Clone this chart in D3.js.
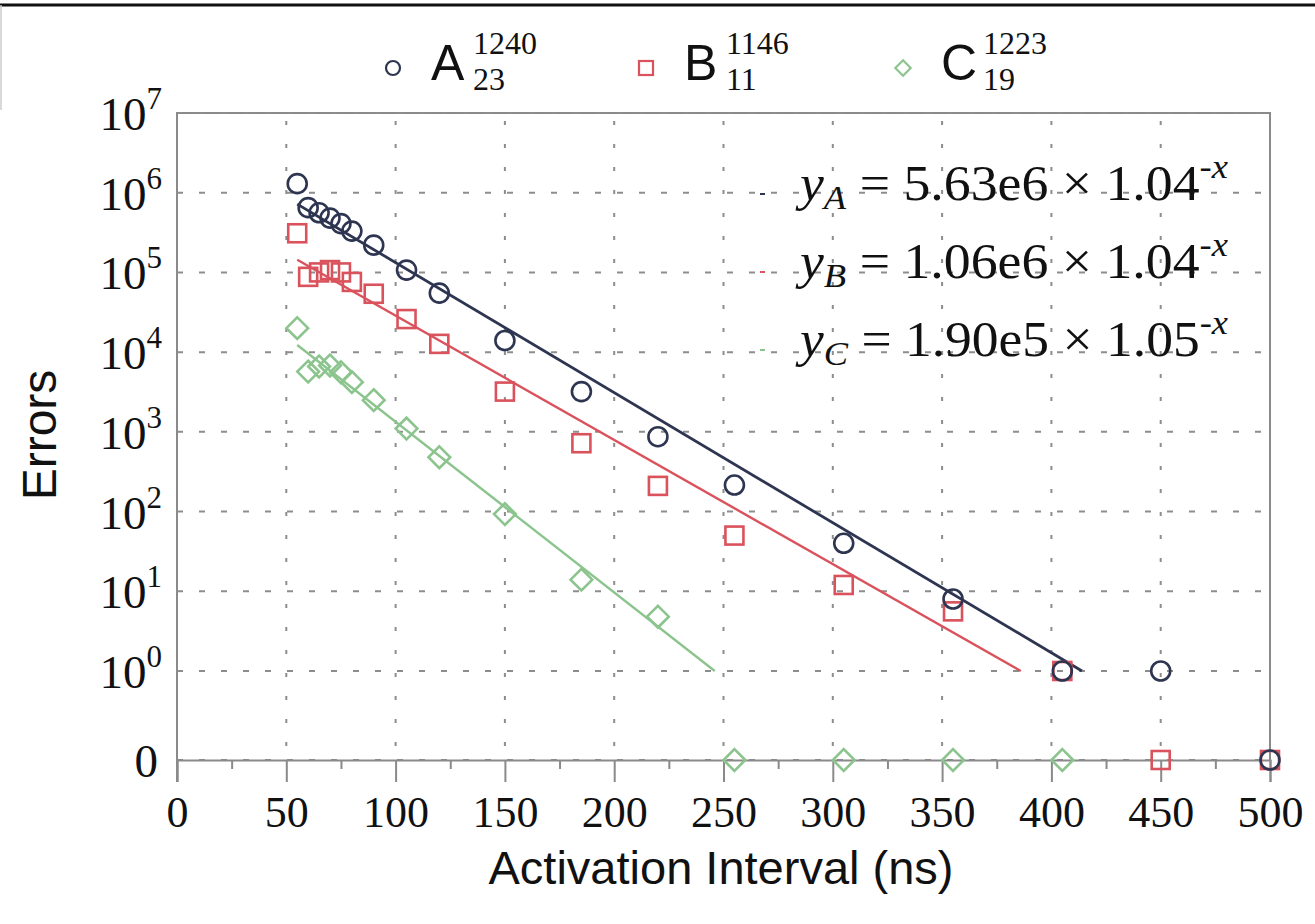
<!DOCTYPE html>
<html>
<head>
<meta charset="utf-8">
<script src="https://cdn.jsdelivr.net/npm/d3@7"></script>
<style>
  body { margin: 0; background: #fff; }
  text { fill: #111; }
</style>
</head>
<body>
<div id="chart"></div>
<script>
var WIDTH = 1315, HEIGHT = 924;
var MARGIN = {TOP: 113, RIGHT: 45, BOTTOM: 164, LEFT: 177};

// activation interval (ns) of each measurement
var intervals = [55, 60, 65, 70, 75, 80, 90, 105, 120, 150, 185, 220, 255, 305, 355, 405, 450, 500];
// errors per module (0 = no error seen, null = not drawn)
var errorsA = [1.3e6, 6.5e5, 5.6e5, 4.8e5, 4.1e5, 3.3e5, 2.2e5, 1.07e5, 5.5e4, 1.4e4, 3.2e3, 870, 215, 40, 8, 1, 1, 0];
var errorsB = [3.1e5, 8.8e4, 1.0e5, 1.07e5, 1.0e5, 7.6e4, 5.4e4, 2.6e4, 1.27e4, 3.2e3, 720, 210, 50, 12, 5.6, 1, 0, 0];
var errorsC = [2.0e4, 5.7e3, 6.6e3, 6.8e3, 5.6e3, 4.2e3, 2.5e3, 1.1e3, 480, 93, 14, 4.8, 0, 0, 0, 0, null, null];

// fitted lines, end points [x, errors]
var fitA = [[55, 7.2e5], [414, 1]];
var fitB = [[55, 1.44e5], [386, 1]];
var fitC = [[55, 1.23e4], [246, 1]];

var names = ["A", "B", "C"];
var nameSup = ["1240", "1146", "1223"];
var nameSub = ["23", "11", "19"];
var coefs = ["5.63e6", "1.06e6", "1.90e5"];
var bases = ["1.04", "1.04", "1.05"];

var xTicks = [0, 50, 100, 150, 200, 250, 300, 350, 400, 450, 500];
var yExps = [0, 1, 2, 3, 4, 5, 6, 7];

var colors = {A: "#2e3551", B: "#d9525c", C: "#8cc48e"};
var ZERO_EXP = -1.1165; // where "0" sits on the log axis

var svg = d3.select("#chart").append("svg")
    .attr("width", WIDTH)
    .attr("height", HEIGHT);

var x = d3.scaleLinear().domain([0, 500]).range([MARGIN.LEFT, WIDTH - MARGIN.RIGHT]);
var yExp = d3.scaleLinear().domain([ZERO_EXP, 7]).range([HEIGHT - MARGIN.BOTTOM, MARGIN.TOP]);
function y(v) { return yExp(v > 0 ? Math.log10(v) : ZERO_EXP); }

var serif = "'Liberation Serif', 'DejaVu Serif', serif";
var sans = "'Liberation Sans', Arial, sans-serif";

// frame line at the very top of the picture
svg.append("line").attr("x1", 0).attr("x2", WIDTH).attr("y1", 5).attr("y2", 5)
    .attr("stroke", "#111").attr("stroke-width", 3);
svg.append("line").attr("x1", 1).attr("x2", 1).attr("y1", 5).attr("y2", 110)
    .attr("stroke", "#ccc").attr("stroke-width", 1.5);

var plotBottom = HEIGHT - MARGIN.BOTTOM;

// box
svg.append("path")
    .attr("d", "M" + x(0) + "," + (plotBottom + 22) + "V" + MARGIN.TOP + "H" + x(500) + "V" + plotBottom)
    .attr("fill", "none").attr("stroke", "#8a8a8a").attr("stroke-width", 2);

// grid
svg.append("g").selectAll("line").data(yExps.concat([ZERO_EXP])).enter().append("line")
    .attr("x1", x(0)).attr("x2", x(500))
    .attr("y1", function(d) { return yExp(d); })
    .attr("y2", function(d) { return yExp(d); })
    .attr("stroke", "#8d8d8d").attr("stroke-width", 2)
    .attr("stroke-dasharray", "6,16");

svg.append("g").selectAll("line").data(xTicks.slice(1, -1)).enter().append("line")
    .attr("x1", function(d) { return x(d); }).attr("x2", function(d) { return x(d); })
    .attr("y1", MARGIN.TOP).attr("y2", plotBottom)
    .attr("stroke", "#8d8d8d").attr("stroke-width", 2)
    .attr("stroke-dasharray", "4,19").attr("stroke-dashoffset", -8);

// x axis
var xAxis = svg.append("g")
    .attr("transform", "translate(0," + plotBottom + ")")
    .call(d3.axisBottom(x).tickValues(xTicks).tickSize(22).tickPadding(14));
xAxis.select(".domain").attr("stroke", "#8a8a8a").attr("stroke-width", 2);
xAxis.selectAll(".tick line").attr("stroke", "#8a8a8a").attr("stroke-width", 2);
xAxis.selectAll("text").style("font-family", serif).style("font-size", "44px").attr("fill", "#111");

var xMinor = svg.append("g")
    .attr("transform", "translate(0," + plotBottom + ")")
    .call(d3.axisBottom(x).tickValues(d3.range(25, 500, 50)).tickSize(9).tickFormat(""));
xMinor.select(".domain").remove();
xMinor.selectAll(".tick line").attr("stroke", "#8a8a8a").attr("stroke-width", 2);

// y tick labels 10^k and 0
var yLab = svg.append("g").attr("font-family", serif);
yExps.forEach(function(k) {
    var t = yLab.append("text")
        .attr("x", MARGIN.LEFT - 15).attr("y", yExp(k) + 17)
        .attr("text-anchor", "end").attr("font-size", 47);
    t.append("tspan").text("10");
    t.append("tspan").attr("font-size", 31).attr("dy", -21).text(k);
});
yLab.append("text")
    .attr("x", MARGIN.LEFT - 19).attr("y", yExp(ZERO_EXP) + 17)
    .attr("text-anchor", "end").attr("font-size", 47).text("0");

// axis titles
svg.append("text")
    .attr("x", 721).attr("y", 884)
    .attr("text-anchor", "middle")
    .attr("font-family", sans).attr("font-size", 47)
    .text("Activation Interval (ns)");

svg.append("text")
    .attr("transform", "translate(56," + 435 + ") rotate(-90)")
    .attr("text-anchor", "middle")
    .attr("font-family", sans).attr("font-size", 48)
    .text("Errors");

// fit lines
var line = d3.line().x(function(d) { return x(d[0]); }).y(function(d) { return y(d[1]); });
[[fitA, "A"], [fitB, "B"], [fitC, "C"]].forEach(function(f) {
    svg.append("path").datum(f[0])
        .attr("d", line)
        .attr("fill", "none")
        .attr("stroke", colors[f[1]])
        .attr("stroke-width", f[1] === "A" ? 2.8 : 2.4);
});

// markers
function drawSeries(vals, key, shape) {
    var pts = intervals.map(function(d, i) { return {x: d, v: vals[i]}; })
        .filter(function(d) { return d.v !== null; });
    var g = svg.append("g")
        .attr("fill", "none")
        .attr("stroke", colors[key])
        .attr("stroke-width", 2.6);
    if (shape === "circle") {
        g.selectAll("circle").data(pts).enter().append("circle")
            .attr("cx", function(d) { return x(d.x); })
            .attr("cy", function(d) { return y(d.v); })
            .attr("r", 9.5);
    } else if (shape === "square") {
        g.selectAll("rect").data(pts).enter().append("rect")
            .attr("x", function(d) { return x(d.x) - 9; })
            .attr("y", function(d) { return y(d.v) - 9; })
            .attr("width", 18).attr("height", 18);
    } else {
        g.selectAll("path").data(pts).enter().append("path")
            .attr("d", d3.symbol().type(d3.symbolDiamond2).size(300))
            .attr("transform", function(d) { return "translate(" + x(d.x) + "," + y(d.v) + ")"; });
    }
}
drawSeries(errorsC, "C", "diamond");
drawSeries(errorsB, "B", "square");
drawSeries(errorsA, "A", "circle");

// legend on top
var legendX = [393, 646, 903];
var shapes = ["circle", "square", "diamond"];
names.forEach(function(n, i) {
    var g = svg.append("g").attr("transform", "translate(" + legendX[i] + ",68)");
    var mk = g.append("g").attr("fill", "none").attr("stroke", colors[n]).attr("stroke-width", 2.2);
    if (shapes[i] === "circle") mk.append("circle").attr("r", 7);
    else if (shapes[i] === "square") mk.append("rect").attr("x", -7).attr("y", -7).attr("width", 14).attr("height", 14);
    else mk.append("path").attr("d", d3.symbol().type(d3.symbolDiamond2).size(150));
    g.append("text").attr("x", 38).attr("y", 12)
        .attr("font-family", sans).attr("font-size", 50).text(n);
    g.append("text").attr("x", 80).attr("y", -14)
        .attr("font-family", serif).attr("font-size", 32).text(nameSup[i]);
    g.append("text").attr("x", 80).attr("y", 22)
        .attr("font-family", serif).attr("font-size", 32).text(nameSub[i]);
});

// fit equations
var eqY = [200, 278, 356];
names.forEach(function(n, i) {
    svg.append("line")
        .attr("x1", 760).attr("x2", 765).attr("y1", eqY[i] - 6).attr("y2", eqY[i] - 6)
        .attr("stroke", colors[n]).attr("stroke-width", 2);
    var t = svg.append("text")
        .attr("x", 800).attr("y", eqY[i])
        .attr("font-family", serif).attr("font-size", 50)
        .attr("textLength", 428).attr("lengthAdjust", "spacingAndGlyphs");
    t.append("tspan").attr("font-style", "italic").text("y");
    t.append("tspan").attr("font-style", "italic").attr("font-size", 34).attr("dy", 9).text(n);
    t.append("tspan").attr("dy", -9).text(" = " + coefs[i] + " \u00d7 " + bases[i]);
    t.append("tspan").attr("font-size", 34).attr("dy", -22).text("-");
    t.append("tspan").attr("font-size", 34).attr("font-style", "italic").text("x");
});
</script>
</body>
</html>
